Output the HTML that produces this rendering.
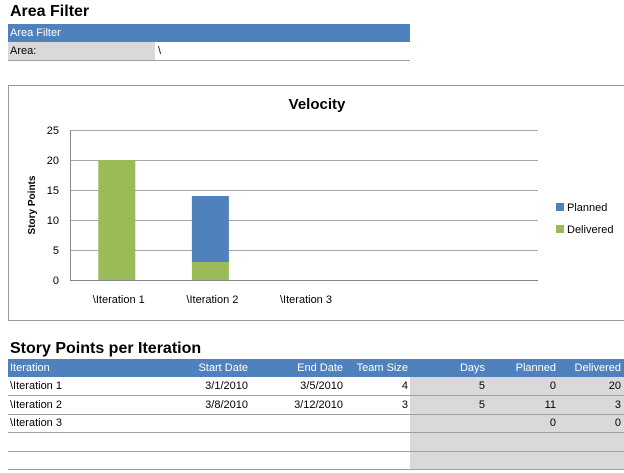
<!DOCTYPE html>
<html><head><meta charset="utf-8"><style>
body{margin:0;width:624px;height:473px;background:#fff;font-family:"Liberation Sans",sans-serif;position:relative;overflow:hidden}
.a{position:absolute;white-space:nowrap}
.h1{font-weight:bold;font-size:16px;color:#000}
.hdr{background:#4f81bd;color:#fff;font-size:11px}
.t{font-size:11px;color:#000}
.line{position:absolute;height:1px;background:#a0a0a0}
</style></head><body>
<div class="a h1" style="left:10px;top:3px">Area Filter</div>
<div class="a hdr" style="left:8px;top:24px;width:400px;height:18px;line-height:18px;padding-left:2px">Area Filter</div>
<div class="a" style="left:8px;top:42px;width:147px;height:18px;background:#d9d9d9"></div>
<div class="a t" style="left:10px;top:45px">Area:</div>
<div class="a t" style="left:158px;top:45px">\</div>
<div class="line" style="left:8px;top:60px;width:402px"></div>

<svg class="a" style="left:0;top:0" width="624" height="473" id="chart"></svg>

<div class="a h1" style="left:10px;top:340px">Story Points per Iteration</div>
<div class="a hdr" style="left:8px;top:359px;width:616px;height:18px"></div>
<div class="a" style="left:410px;top:377px;width:214px;height:93px;background:#d9d9d9"></div>
<div id="tbl"></div>
<script>
const categories=["\\Iteration 1","\\Iteration 2","\\Iteration 3"];
const planned=[0,11,0];
const delivered=[20,3,0];
const yTicks=[0,5,10,15,20,25];
const svg=document.getElementById('chart');const NS='http://www.w3.org/2000/svg';
function mk(t,at,txt){const e=document.createElementNS(NS,t);for(const k in at)e.setAttribute(k,at[k]);if(txt!=null)e.textContent=txt;svg.appendChild(e);return e;}
const x0=70,x1=538,y0=280,yMax=25,pxU=6,nSlots=5;
const slot=(x1-x0)/nSlots;
const y=v=>y0-v*pxU;const xc=i=>x0+slot*(i+0.5);
let e=mk('rect',{x:8.5,y:85.5,width:620,height:235,fill:'#fff',stroke:'#9a9a9a'});

e=mk('text',{x:317,y:109,'font-size':15,'font-weight':'bold','text-anchor':'middle','font-family':'Liberation Sans'},'Velocity');

yTicks.forEach(v=>{e=mk('line',{x1:x0,x2:x1,y1:y(v)+.5,y2:y(v)+.5,stroke:v?'#a6a6a6':'#888'});

e=mk('text',{x:59,y:y(v)+4,'font-size':11,'text-anchor':'end','font-family':'Liberation Sans'},v);
});
e=mk('line',{x1:x0+.5,x2:x0+.5,y1:y(yMax),y2:y0,stroke:'#888'});

e=mk('text',{x:0,y:0,'font-size':10,'font-weight':'bold','text-anchor':'middle','font-family':'Liberation Sans',transform:'translate(35,205) rotate(-90)'},'Story Points');

const bw=37;
categories.forEach((c,i)=>{
 e=mk('rect',{x:xc(i)-bw/2,y:y(delivered[i]),width:bw,height:delivered[i]*pxU,fill:'#9bbb59'});
 
 e=mk('rect',{x:xc(i)-bw/2,y:y(delivered[i]+planned[i]),width:bw,height:planned[i]*pxU,fill:'#4f81bd'});
 
 e=mk('text',{x:xc(i)+2,y:303,'font-size':11,'text-anchor':'middle','font-family':'Liberation Sans'},c);
 
});
[['Planned','#4f81bd',207],['Delivered','#9bbb59',229]].forEach(l=>{
 e=mk('rect',{x:556,y:l[2]-4,width:8,height:8,fill:l[1]});
 
 e=mk('text',{x:567,y:l[2]+4,'font-size':11,'font-family':'Liberation Sans'},l[0]);
 
});
const tbl=document.getElementById('tbl');
const cols=[['Iteration',10,'l'],['Start Date',248,'r'],['End Date',343,'r'],['Team Size',408,'r'],['Days',485,'r'],['Planned',556,'r'],['Delivered',621,'r']];
const rows=[["\\Iteration 1","3/1/2010","3/5/2010","4","5","0","20"],["\\Iteration 2","3/8/2010","3/12/2010","3","5","11","3"],["\\Iteration 3","","","","","0","0"],["","","","","","",""],["","","","","","",""]];
function cell(txt,c,top,cls,name){const d=document.createElement('div');d.className='a '+cls;d.textContent=txt;
 d.style.top=top+'px';if(c[2]=='l')d.style.left=c[1]+'px';else d.style.right=(624-c[1])+'px';
 tbl.appendChild(d);}
cols.forEach(c=>cell(c[0],c,362,'hdr','column-header'));
rows.forEach((r,ri)=>{const top=377+ri*18.6;
 r.forEach((v,ci)=>{if(v)cell(v,cols[ci],top+3,'t','table-cell');});
 const ln=document.createElement('div');ln.className='line';ln.style.left='8px';ln.style.width='616px';ln.style.top=Math.round(top+18)+'px';
 tbl.appendChild(ln);});
</script>
</body></html>
